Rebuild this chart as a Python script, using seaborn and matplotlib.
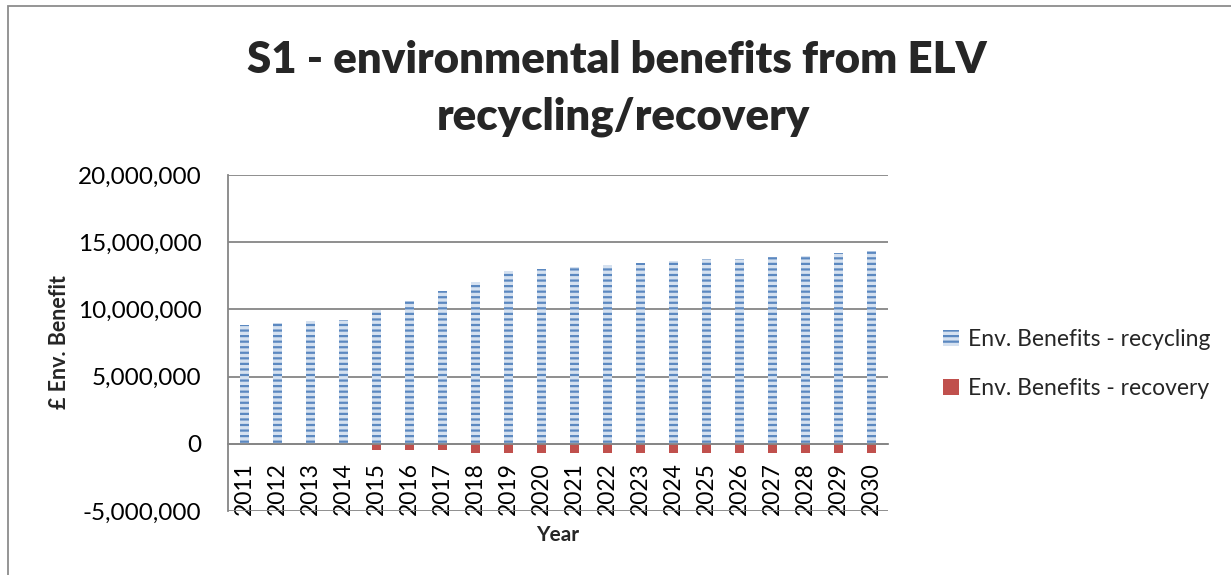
import matplotlib
matplotlib.use("Agg")
import matplotlib.pyplot as plt
import matplotlib.patches as mpatches
from matplotlib.ticker import FuncFormatter
import seaborn as sns
import pandas as pd

years = [str(y) for y in range(2011, 2031)]
recycling = [8.85e6, 9.0e6, 9.15e6, 9.2e6, 9.94e6, 10.63e6, 11.37e6, 12.04e6, 12.86e6, 12.99e6,
             13.16e6, 13.28e6, 13.48e6, 13.58e6, 13.75e6, 13.72e6, 13.9e6, 14.0e6, 14.22e6, 14.35e6]
recovery = [0, 0, 0, 0, -0.48e6, -0.48e6, -0.48e6, -0.66e6, -0.66e6, -0.66e6,
            -0.66e6, -0.66e6, -0.66e6, -0.66e6, -0.66e6, -0.66e6, -0.66e6, -0.66e6, -0.66e6, -0.66e6]
series_names = ["Env. Benefits - recycling", "Env. Benefits - recovery"]

df = pd.DataFrame({
    "Year": years * 2,
    "Value": recycling + recovery,
    "Series": [series_names[0]] * len(years) + [series_names[1]] * len(years),
})

sns.set_style("white")
plt.rcParams["font.family"] = ["Lato", "DejaVu Sans"]
plt.rcParams["hatch.linewidth"] = 1.6

BLUE = "#4F81BD"
RED = "#C0504D"
GRID = "#868686"
STRIPE_BG = "#D5E1F0"
STRIPE_FG = "#5B88C0"

fig = plt.figure(figsize=(12.31, 5.75), dpi=100)
ax = fig.add_axes([228 / 1231, 1 - 511 / 575, (888 - 228) / 1231, (511 - 175) / 575])

sns.barplot(data=df, x="Year", y="Value", hue="Series", dodge=False, width=0.28,
            palette=[BLUE, RED], ax=ax, legend=False, saturation=1)

for p in ax.containers[0]:
    p.set_facecolor(STRIPE_BG)
    p.set_edgecolor(STRIPE_FG)
    p.set_hatch("---")
    p.set_linewidth(0)
for p in ax.containers[1]:
    p.set_facecolor(RED)
    p.set_edgecolor(RED)
    p.set_linewidth(0)

ax.set_ylim(-5e6, 20e6)
ax.set_xlim(-0.5, len(years) - 0.5)
ax.set_yticks([-5e6, 0, 5e6, 10e6, 15e6, 20e6])
ax.yaxis.set_major_formatter(FuncFormatter(lambda v, _: f"{v:,.0f}"))
ax.grid(axis="y", color=GRID, linewidth=1.3, zorder=0)
ax.set_axisbelow(True)

for s in ["top", "right"]:
    ax.spines[s].set_visible(False)
ax.spines["left"].set_color(GRID)
ax.spines["left"].set_linewidth(1.3)
ax.spines["bottom"].set_position(("data", 0))
ax.spines["bottom"].set_color(GRID)
ax.spines["bottom"].set_linewidth(1.3)

ax.tick_params(axis="y", length=7, width=1.3, color=GRID, labelsize=17.5, pad=12, labelcolor="black")
ax.tick_params(axis="x", length=0, labelsize=16.5, pad=13, labelrotation=90, labelcolor="black")
for lab in ax.get_xticklabels():
    lab.set_verticalalignment("top")

ax.set_xlabel("")
ax.set_ylabel("")
fig.text(558 / 1231, 1 - 535 / 575, "Year", ha="center", va="center", fontsize=15, fontweight="bold")
fig.text(60 / 1231, 1 - 342 / 575, "£ Env. Benefit", ha="center", va="center", rotation=90,
         fontsize=15.5, fontweight="bold")

fig.text(617 / 1231, 1 - 60 / 575, "S1 - environmental benefits from ELV", ha="center", va="center",
         fontsize=31.5, fontweight="heavy")
fig.text(623 / 1231, 1 - 117 / 575, "recycling/recovery", ha="center", va="center",
         fontsize=31.5, fontweight="heavy")

handles = [
    mpatches.Patch(facecolor=STRIPE_BG, edgecolor=STRIPE_FG, hatch="---", linewidth=0, label=series_names[0]),
    mpatches.Patch(facecolor=RED, edgecolor=RED, linewidth=0, label=series_names[1]),
]
fig.legend(handles=handles, loc="center left", bbox_to_anchor=(922 / 1231, 1 - 364 / 575),
           frameon=False, fontsize=16.5, handlelength=0.7, handleheight=0.7, handletextpad=0.4,
           labelspacing=1.2)

fig.patches.append(mpatches.Rectangle((8 / 1231, -0.1), 1.2, 1.1 - 6 / 575, transform=fig.transFigure,
                                      fill=False, edgecolor="#8C8C8C", linewidth=1.3))

fig.savefig("out.png", dpi=100)
